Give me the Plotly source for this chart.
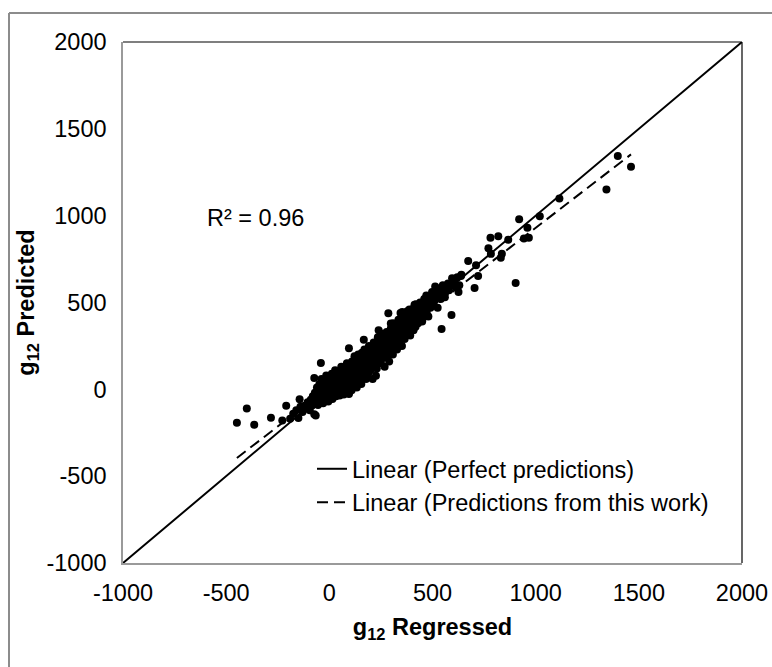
import plotly.graph_objects as go

# ---------------- data ----------------
# outlier / sparse points (g12 regressed, g12 predicted)
sparse_x = [1398, 1462, 1343, 1115, 1020, 920, 960, 943, 967, 903, 819, 781, 836, 831, 771, 783, 867,
            673, 711, 721, 704, 638, 602, 626, 592, 544, 513, 561, 478, 413, 353, 286, 298, 239, 226,
            167, 95, -41, -73, 95, -73, -144, -209, -228, -448, -400, -364, -283, -66]
sparse_y = [1344, 1282, 1150, 1099, 996, 979, 930, 869, 873, 612, 881, 873, 780, 758, 812, 780, 861,
            739, 714, 653, 584, 653, 636, 560, 428, 347, 592, 555, 518, 487, 445, 438, 379, 340, 78,
            286, 237, 151, 65, -27, -143, -57, -94, -180, -192, -111, -204, -163, -151]

# dense band points
band_x = [-190, -175, -160, -150, -140, -130, -120, -110, -105, -95, -90, -85,
          -80, -75, -70, -65, -60, -58, -55, -50, -48, -45, -42, -40, -38, -35, -30, -28, -25, -22,
          -20, -18, -15, -12, -10, -8, -5, -3, 0, 0, 2, 5,
          8, 10, 12, 15, 18, 20, 22, 25, 28, 30, 32, 35, 38, 40, 42, 45, 48, 50, 52, 55, 58, 60,
          62, 65, 68, 70, 72, 75, 78, 80, 82, 85, 88, 90, 92, 95, 98, 100, 100,
          105, 108, 110, 112, 115, 118, 120, 122, 125, 128, 130, 133, 135, 138, 140, 142, 145, 148,
          150, 152, 155, 158, 160, 162, 165, 168, 170, 172, 175, 178, 180, 182, 185, 188, 190, 192,
          195, 198, 200,
          205, 208, 210, 212, 215, 218, 220, 225, 228, 230, 232, 235, 238, 240, 242, 245, 248, 250,
          252, 255, 258, 260, 262, 265, 268, 270, 272, 275, 278, 280, 282, 285, 288, 290, 292, 295,
          298, 300,
          305, 308, 310, 312, 315, 318, 320, 322, 325, 328, 330, 332, 335, 338, 340, 342, 345, 348,
          350, 352, 355, 358, 360, 362, 365, 368, 370, 372, 375, 378, 380, 382, 385, 388, 390, 392,
          395, 398, 400,
          405, 408, 410, 412, 415, 418, 420, 425, 428, 430, 435, 438, 440, 442, 445, 448, 450, 455,
          458, 460, 462, 465, 468, 470, 472, 475, 478, 480, 485, 488, 490, 495, 498, 500,
          505, 510, 515, 520, 525, 530, 535, 540, 545, 550, 555, 560, 568, 575, 580, 590, 595, 605,
          612, 620, 630, 640]
band_y = [-170, -140, -120, -165, -100, -130, -95, -110, -75, -120, -60, -95,
          -40, -85, -20, -60, 10, -45, -90, -30, 30, -70, 0, -50, 60, -20, -80, 20, -45, 45,
          -10, -60, 80, 10, -35, 35, -70, -15, 60, -45, 20, -25,
          40, -10, 90, -55, 15, 60, -30, 35, 110, 0, -40, 75, 20, -20, 50, 100, 5, -35, 70, 30, 130, -10,
          45, 90, 15, -30, 60, 120, 35, 0, 80, 150, 45, 10, 100, -20, 65, 30, 130,
          85, -5, 160, 50, 110, 20, 75, 190, 130, 40, 95, 10, 150, 70, 200, 115, 50, 170,
          90, 130, 30, 210, 110, 160, 70, 140, 230, 100, 180, 60, 150, 120, 210, 90, 170, 250,
          130, 190, 110,
          230, 160, 60, 200, 270, 140, 210, 180, 260, 120, 230, 300, 190, 250, 160, 220, 280, 150,
          240, 200, 320, 180, 260, 230, 130, 290, 210, 250, 330, 190, 270, 240, 310, 160, 280, 220,
          350, 260,
          300, 200, 380, 280, 240, 330, 370, 260, 310, 230, 360, 290, 400, 320, 270, 350, 440, 300,
          380, 250, 340, 410, 310, 370, 290, 420, 350, 390, 320, 450, 360, 410, 340, 460, 380, 310,
          430, 400, 370,
          420, 340, 470, 390, 430, 360, 490, 410, 440, 380, 460, 420, 500, 400, 470, 430, 390, 480,
          450, 520, 420, 490, 460, 540, 440, 500, 470, 420, 510, 540, 470, 520, 560, 490,
          540, 510, 560, 530, 470, 580, 545, 520, 570, 600, 555, 530, 590, 610, 570, 600, 640, 620,
          590, 645, 600, 660]

# reference lines
perfect_x = [-1000, 2000]
perfect_y = [-1000, 2000]
fit_x_range = [-448, 1462]
fit_slope = 0.915
fit_intercept = 15
fit_y = [fit_slope * v + fit_intercept for v in fit_x_range]

r2_text = "R² = 0.96"
axis_ticks = [-1000, -500, 0, 500, 1000, 1500, 2000]

FONT = "Arial, Liberation Sans, sans-serif"
FS = 23.5

fig = go.Figure()

fig.add_trace(go.Scatter(
    x=band_x + sparse_x, y=band_y + sparse_y, mode="markers",
    marker=dict(color="black", size=8, line=dict(width=0)),
    showlegend=False, hoverinfo="x+y"))

fig.add_trace(go.Scatter(
    x=perfect_x, y=perfect_y, mode="lines",
    line=dict(color="black", width=2),
    name="Linear (Perfect predictions)", legendgroup="a"))

fig.add_trace(go.Scatter(
    x=fit_x_range, y=fit_y, mode="lines",
    line=dict(color="black", width=2, dash="11px,6px"),
    name="Linear (Predictions from this work)", legendgroup="b"))

axis_common = dict(
    range=[-1000, 2000], tickvals=axis_ticks, ticktext=[str(v) for v in axis_ticks],
    showgrid=False, zeroline=False, showline=True, linecolor="#9a9a9a", linewidth=1.5,
    ticks="", tickfont=dict(family=FONT, size=FS, color="black"),
)

fig.update_xaxes(**axis_common, ticklabelstandoff=8,
                 title=dict(text="<b>g<sub>12</sub> Regressed</b>",
                            font=dict(family=FONT, size=FS, color="black"), standoff=14))
fig.update_yaxes(**axis_common, ticklabelstandoff=10,
                 title=dict(text="<b>g<sub>12</sub> Predicted</b>",
                            font=dict(family=FONT, size=FS, color="black"), standoff=5))

W, H = 772, 667
L, R, T, B = 123, 30, 42, 104
pw, ph = W - L - R, H - T - B

def px_to_paper_x(px):
    return (px - L) / pw

def px_to_paper_y(py):
    return (H - B - py) / ph

shapes = [
    # black top and right border of plot area
    dict(type="line", xref="paper", yref="paper", x0=0, x1=1, y0=1, y1=1,
         line=dict(color="black", width=1.2)),
    dict(type="line", xref="paper", yref="paper", x0=1, x1=1, y0=0, y1=1,
         line=dict(color="black", width=1.2)),
    # outer chart frame (left and top)
    dict(type="line", xref="paper", yref="paper",
         x0=px_to_paper_x(9), x1=px_to_paper_x(9), y0=px_to_paper_y(13), y1=px_to_paper_y(680),
         line=dict(color="#8c8c8c", width=2)),
    dict(type="line", xref="paper", yref="paper",
         x0=px_to_paper_x(9), x1=px_to_paper_x(790), y0=px_to_paper_y(13), y1=px_to_paper_y(13),
         line=dict(color="#8c8c8c", width=2)),
]

fig.update_layout(
    width=W, height=H,
    margin=dict(l=L, r=R, t=T, b=B, autoexpand=False),
    paper_bgcolor="white", plot_bgcolor="white",
    font=dict(family=FONT, size=FS, color="black"),
    shapes=shapes,
    annotations=[dict(x=-360, y=985, xref="x", yref="y", text=r2_text, showarrow=False,
                      font=dict(family=FONT, size=FS, color="black"))],
    legend=dict(x=px_to_paper_x(312), y=px_to_paper_y(447), xanchor="left", yanchor="top",
                bgcolor="rgba(0,0,0,0)", font=dict(family=FONT, size=FS, color="black"),
                tracegroupgap=6, traceorder="normal"),
)

fig.write_html("out.html")
